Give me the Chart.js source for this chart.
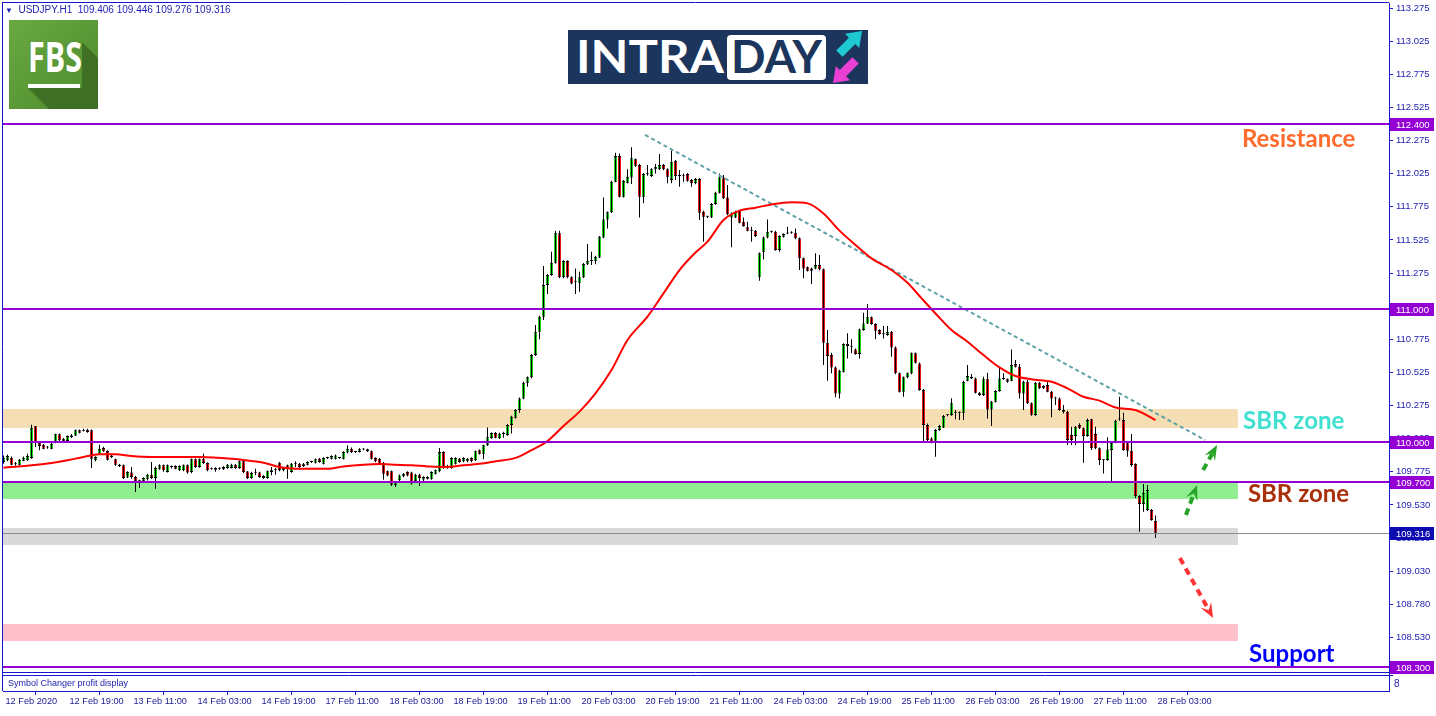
<!DOCTYPE html>
<html>
<head>
<meta charset="utf-8">
<script src="https://cdn.jsdelivr.net/npm/chart.js@4.4.1/dist/chart.umd.min.js"></script>
<style>
html, body { margin: 0; padding: 0; background: #fff; }
#wrap { position: relative; width: 1436px; height: 716px; overflow: hidden; }
#chart { position: absolute; left: 0; top: 0; }
#header { position: absolute; left: 5px; top: 4px; font: 10px "Liberation Sans", Arial, sans-serif; color: #1d1db5; white-space: pre; }
#fbs { position: absolute; left: 9px; top: 20px; }
#intraday { position: absolute; left: 568px; top: 30px; }
</style>
</head>
<body>
<div id="wrap">
  <canvas id="chart" width="1436" height="716"></canvas>
  <div id="header"><span style="font-size:8px">▼</span>  USDJPY.H1  109.406 109.446 109.276 109.316</div>
  <svg id="fbs" width="89" height="89" viewBox="0 0 89 89">
    <defs>
      <linearGradient id="g1" x1="0" y1="0" x2="1" y2="1">
        <stop offset="0" stop-color="#6aa842"/>
        <stop offset="1" stop-color="#4e8c2e"/>
      </linearGradient>
    </defs>
    <rect width="89" height="89" fill="url(#g1)"/>
    <polygon points="73,22 89,38 89,89 40,89 19,68 73,68" fill="#3b6a22" opacity="0.85"/>
    <text x="19" y="52" fill="#fff" font-family="Open Sans, Liberation Sans" font-weight="bold" font-size="41" textLength="54" lengthAdjust="spacingAndGlyphs">FBS</text>
    <rect x="19" y="64" width="52" height="4" fill="#fff"/>
  </svg>
  <svg id="intraday" width="300" height="54" viewBox="0 0 300 54">
    <rect width="300" height="54" fill="#1b355c"/>
    <text x="8" y="43" fill="#fff" font-family="Lato, Open Sans" font-weight="bold" font-size="46" textLength="148" lengthAdjust="spacingAndGlyphs">INTRA</text>
    <rect x="159" y="5" width="99" height="45" rx="4" fill="#fff"/>
    <text x="163" y="43" fill="#1b355c" font-family="Lato, Open Sans" font-weight="bold" font-size="46" textLength="91" lengthAdjust="spacingAndGlyphs">DAY</text>
    <polygon points="294,1 291.2,18 287.3,14.1 274.6,26.8 268.2,20.4 280.9,7.7 277,3.8" fill="#1ec9d2"/>
    <polygon points="265,53 282,50.2 278.1,46.3 290.8,33.6 284.4,27.2 271.7,39.9 267.8,36" fill="#ea3fd4"/>
  </svg>
</div>
<script>
// USDJPY H1, 12 Feb 03:00 -> 28 Feb 03:00 (bar index 0..288)
const opens = [
  109.849,109.862,109.882,109.836,109.829,109.859,109.862,109.879,110.118,109.995,
  109.980,109.962,109.950,109.995,110.058,110.025,110.008,110.038,110.050,110.088,
  110.085,110.093,110.088,109.862,109.912,109.955,109.932,109.899,109.869,109.829,
  109.824,109.733,109.769,109.736,109.705,109.703,109.723,109.753,109.728,109.799,
  109.824,109.774,109.813,109.819,109.786,109.786,109.824,109.774,109.869,109.811,
  109.869,109.842,109.800,109.791,109.799,109.794,109.804,109.804,109.829,109.804,
  109.854,109.778,109.728,109.770,109.769,109.743,109.728,109.774,109.787,109.844,
  109.786,109.824,109.774,109.837,109.836,109.819,109.829,109.849,109.844,109.874,
  109.836,109.879,109.874,109.874,109.880,109.874,109.920,109.950,109.925,109.925,
  109.945,109.945,109.930,109.879,109.874,109.844,109.779,109.779,109.673,109.711,
  109.741,109.774,109.769,109.703,109.753,109.718,109.723,109.723,109.761,109.779,
  109.925,109.804,109.804,109.836,109.874,109.854,109.854,109.879,109.862,109.937,
  109.912,109.975,110.030,110.068,110.028,110.060,110.053,110.128,110.183,110.241,
  110.329,110.448,110.488,110.656,110.833,110.946,111.185,111.260,111.353,111.575,
  111.243,111.366,111.243,111.212,111.202,111.243,111.341,111.368,111.368,111.393,
  111.544,111.680,111.733,111.965,112.158,111.851,111.957,111.997,112.133,112.090,
  111.851,112.020,112.007,112.058,112.058,112.090,112.058,111.977,112.123,112.007,
  112.008,112.022,111.977,111.952,111.985,111.738,111.701,111.695,111.796,111.881,
  111.997,111.846,111.695,111.695,111.746,111.663,111.620,111.596,111.595,111.248,
  111.436,111.544,111.588,111.587,111.449,111.549,111.574,111.579,111.580,111.537,
  111.386,111.318,111.310,111.310,111.336,111.303,110.749,110.656,110.563,110.367,
  110.530,110.724,110.720,110.699,110.664,110.845,110.895,110.941,110.890,110.845,
  110.816,110.807,110.832,110.714,110.518,110.380,110.488,110.518,110.669,110.593,
  110.392,110.128,110.027,110.002,110.090,110.110,110.204,110.203,110.222,110.221,
  110.221,110.463,110.493,110.480,110.372,110.354,110.473,110.246,110.304,110.385,
  110.478,110.473,110.463,110.588,110.568,110.367,110.455,110.292,110.203,110.447,
  110.422,110.430,110.380,110.330,110.329,110.241,110.229,110.053,110.045,110.128,
  110.103,110.045,110.171,110.060,109.952,109.865,109.864,109.939,109.995,110.170,
  110.166,109.990,109.934,109.834,109.592,109.532,109.487,109.487,109.406
];
const highs = [
  109.899,109.905,109.890,109.850,109.872,109.890,109.912,110.130,110.120,110.000,
  109.985,109.970,109.995,110.062,110.065,110.030,110.050,110.060,110.095,110.095,
  110.100,110.100,110.095,109.892,109.980,109.965,109.937,109.905,109.874,109.835,
  109.830,109.780,109.811,109.745,109.715,109.735,109.760,109.849,109.815,109.832,
  109.830,109.830,109.822,109.825,109.825,109.830,109.830,109.875,109.875,109.875,
  109.912,109.848,109.808,109.810,109.810,109.818,109.835,109.836,109.835,109.860,
  109.860,109.782,109.775,109.799,109.775,109.750,109.785,109.811,109.804,109.850,
  109.810,109.830,109.842,109.854,109.842,109.842,109.855,109.858,109.875,109.880,
  109.885,109.888,109.900,109.905,109.887,109.930,109.975,109.958,109.932,109.952,
  109.952,109.950,109.935,109.885,109.880,109.850,109.785,109.785,109.705,109.755,
  109.767,109.780,109.775,109.760,109.760,109.742,109.742,109.780,109.792,109.955,
  109.930,109.829,109.885,109.885,109.880,109.885,109.880,109.885,109.936,109.943,
  109.980,110.110,110.071,110.075,110.070,110.078,110.135,110.198,110.248,110.335,
  110.455,110.495,110.662,110.883,110.952,111.328,111.268,111.436,111.595,111.595,
  111.372,111.372,111.250,111.310,111.285,111.350,111.494,111.436,111.405,111.555,
  111.846,111.740,111.972,112.183,112.178,111.977,112.058,112.224,112.140,112.098,
  112.030,112.090,112.065,112.098,112.173,112.098,112.065,112.199,112.128,112.053,
  112.027,112.030,111.985,111.992,111.992,111.745,111.708,111.803,111.888,112.027,
  112.015,111.939,111.732,111.745,111.751,111.695,111.663,111.625,111.600,111.430,
  111.550,111.680,111.595,111.595,111.560,111.576,111.625,111.590,111.612,111.543,
  111.392,111.324,111.316,111.424,111.411,111.310,110.845,110.674,110.570,110.545,
  110.745,110.820,110.775,110.705,110.856,110.976,111.041,110.947,110.896,110.851,
  110.875,110.875,110.838,110.720,110.524,110.494,110.524,110.675,110.675,110.600,
  110.400,110.140,110.035,110.098,110.128,110.203,110.212,110.330,110.241,110.230,
  110.462,110.581,110.513,110.486,110.378,110.493,110.523,110.310,110.391,110.568,
  110.518,110.480,110.699,110.619,110.588,110.462,110.468,110.298,110.453,110.453,
  110.428,110.455,110.386,110.342,110.335,110.279,110.235,110.115,110.121,110.141,
  110.110,110.178,110.176,110.115,109.958,109.872,110.035,110.001,110.168,110.342,
  110.221,109.996,110.060,109.840,109.598,109.683,109.675,109.495,109.446
];
const lows = [
  109.836,109.855,109.825,109.820,109.825,109.855,109.858,109.874,109.962,109.937,
  109.945,109.950,109.945,109.990,110.000,109.995,110.003,110.030,110.045,110.065,
  110.080,110.070,109.804,109.855,109.905,109.925,109.860,109.880,109.820,109.812,
  109.720,109.728,109.723,109.623,109.653,109.690,109.710,109.720,109.648,109.790,
  109.775,109.770,109.800,109.795,109.782,109.780,109.760,109.765,109.805,109.805,
  109.835,109.780,109.790,109.775,109.790,109.788,109.798,109.800,109.798,109.798,
  109.765,109.720,109.722,109.749,109.730,109.722,109.722,109.749,109.753,109.780,
  109.780,109.723,109.768,109.811,109.805,109.812,109.823,109.842,109.838,109.843,
  109.830,109.872,109.868,109.868,109.873,109.868,109.915,109.918,109.918,109.920,
  109.938,109.925,109.868,109.848,109.830,109.716,109.742,109.668,109.660,109.705,
  109.735,109.742,109.680,109.695,109.668,109.700,109.718,109.716,109.755,109.772,
  109.798,109.798,109.798,109.830,109.843,109.848,109.848,109.848,109.856,109.906,
  109.869,109.970,110.025,110.028,110.023,110.033,110.048,110.065,110.178,110.221,
  110.322,110.417,110.482,110.650,110.775,110.921,111.117,111.255,111.345,111.235,
  111.235,111.235,111.190,111.117,111.134,111.238,111.336,111.336,111.341,111.388,
  111.538,111.612,111.728,111.960,111.846,111.846,111.952,111.947,112.078,111.695,
  111.801,112.010,112.000,112.027,112.053,112.050,111.952,111.952,111.977,111.927,
  111.965,111.965,111.927,111.945,111.675,111.512,111.690,111.690,111.790,111.875,
  111.833,111.712,111.469,111.690,111.650,111.625,111.590,111.512,111.548,111.217,
  111.378,111.538,111.580,111.443,111.436,111.543,111.568,111.572,111.531,111.298,
  111.235,111.287,111.192,111.304,111.297,110.581,110.463,110.518,110.337,110.329,
  110.525,110.631,110.669,110.658,110.631,110.840,110.890,110.884,110.775,110.809,
  110.782,110.801,110.644,110.512,110.374,110.342,110.482,110.512,110.592,110.386,
  110.002,110.005,109.990,109.889,110.085,110.105,110.195,110.198,110.171,110.166,
  110.166,110.458,110.475,110.366,110.348,110.348,110.178,110.120,110.298,110.379,
  110.470,110.448,110.458,110.563,110.329,110.241,110.286,110.198,110.198,110.400,
  110.400,110.375,110.186,110.279,110.236,110.216,109.977,109.977,109.977,110.098,
  109.844,110.040,109.939,109.946,109.826,109.763,109.858,109.700,109.990,110.160,
  109.934,109.889,109.813,109.575,109.323,109.474,109.480,109.405,109.276
];
const closes = [
  109.882,109.894,109.829,109.838,109.867,109.882,109.894,110.108,110.000,109.970,
  109.950,109.958,109.987,110.058,110.013,110.005,110.045,110.050,110.088,110.070,
  110.088,110.075,109.874,109.887,109.950,109.930,109.867,109.887,109.829,109.819,
  109.728,109.774,109.736,109.703,109.703,109.728,109.753,109.728,109.804,109.824,
  109.786,109.824,109.811,109.799,109.819,109.824,109.769,109.869,109.811,109.869,
  109.842,109.786,109.798,109.804,109.800,109.811,109.829,109.829,109.804,109.854,
  109.774,109.728,109.766,109.768,109.736,109.728,109.779,109.786,109.786,109.786,
  109.804,109.799,109.836,109.836,109.811,109.836,109.849,109.850,109.869,109.849,
  109.879,109.880,109.894,109.899,109.879,109.925,109.950,109.925,109.924,109.945,
  109.944,109.930,109.874,109.854,109.836,109.761,109.748,109.678,109.698,109.748,
  109.761,109.748,109.686,109.753,109.728,109.736,109.736,109.774,109.786,109.925,
  109.804,109.810,109.879,109.879,109.849,109.879,109.874,109.854,109.930,109.912,
  109.975,110.035,110.068,110.033,110.063,110.062,110.128,110.191,110.241,110.329,
  110.448,110.488,110.656,110.833,110.946,111.185,111.260,111.353,111.575,111.243,
  111.366,111.243,111.197,111.210,111.243,111.343,111.368,111.366,111.398,111.549,
  111.680,111.733,111.965,112.158,111.851,111.970,112.002,112.141,112.085,111.851,
  112.022,112.022,112.058,112.078,112.090,112.058,112.002,112.115,112.007,112.009,
  112.006,111.972,111.952,111.985,111.731,111.700,111.699,111.796,111.881,111.997,
  111.839,111.718,111.725,111.738,111.655,111.630,111.595,111.594,111.554,111.424,
  111.544,111.587,111.586,111.449,111.554,111.570,111.576,111.581,111.537,111.386,
  111.310,111.293,111.293,111.336,111.303,110.749,110.649,110.563,110.367,110.538,
  110.739,110.739,110.718,110.664,110.850,110.895,110.941,110.890,110.840,110.815,
  110.814,110.832,110.714,110.518,110.380,110.488,110.518,110.669,110.598,110.392,
  110.128,110.015,110.002,110.090,110.120,110.196,110.202,110.292,110.220,110.223,
  110.455,110.498,110.480,110.372,110.354,110.473,110.246,110.304,110.385,110.480,
  110.476,110.455,110.581,110.568,110.367,110.455,110.292,110.205,110.447,110.405,
  110.405,110.380,110.329,110.328,110.241,110.229,110.015,110.015,110.115,110.103,
  110.045,110.166,109.952,109.952,109.864,109.863,109.944,109.995,110.161,110.172,
  109.939,109.934,109.826,109.592,109.532,109.617,109.637,109.411,109.316
];

// moving average at these bars
const maIdx = [0,3,7,12,16,20,24,28,32,37,41,49,57,62,65,69,73,81,85,90,
  94,98,102,106,110,115,119,123,128,132,136,140,144,148,152,156,161,165,169,173,
  176,180,184,188,192,197,201,205,209,213,217,222,226,229,233,237,241,245,249,253,
  257,262,266,270,274,278,283,288];
const maVal = [109.806,109.814,109.824,109.842,109.862,109.887,109.907,109.907,109.894,109.887,
  109.887,109.887,109.874,109.857,109.844,109.811,109.799,109.799,109.816,109.829,
  109.834,109.829,109.824,109.816,109.811,109.824,109.836,109.854,109.880,109.939,
  110.007,110.121,110.229,110.367,110.543,110.770,110.946,111.122,111.298,111.430,
  111.512,111.675,111.746,111.768,111.793,111.809,111.801,111.725,111.595,111.487,
  111.386,111.298,111.202,111.102,110.970,110.845,110.757,110.656,110.563,110.498,
  110.473,110.455,110.405,110.342,110.312,110.261,110.241,110.165];

const timeTicks = [0,16,32,48,64,80,96,112,128,144,160,176,192,208,224,240,256,272,288];
const timeLabels = ['12 Feb 2020','12 Feb 19:00','13 Feb 11:00','14 Feb 03:00','14 Feb 19:00',
  '17 Feb 11:00','18 Feb 03:00','18 Feb 19:00','19 Feb 11:00','20 Feb 03:00','20 Feb 19:00',
  '21 Feb 11:00','24 Feb 03:00','24 Feb 19:00','25 Feb 11:00','26 Feb 03:00','26 Feb 19:00',
  '27 Feb 11:00','28 Feb 03:00'];

const priceTicks = [113.275,113.025,112.775,112.525,112.275,112.025,111.775,111.525,111.275,111.025,
  110.775,110.525,110.275,110.025,109.775,109.525,109.275,109.025,108.775,108.525,108.275];
const priceLabels = ['113.275','113.025','112.775','112.525','112.275','112.025','111.775','111.525','111.275','111.025',
  '110.775','110.525','110.275','110.025','109.775','109.530','109.280','109.030','108.780','108.530','108.280'];

const levels = [112.4, 111.0, 110.0, 109.7, 108.3];
const lastPrice = 109.316;

const zoneHigh = [110.249, 109.698, 109.351, 108.626];
const zoneLow  = [110.106, 109.570, 109.223, 108.498];
const zoneEnd = 308.6;

const trendFrom = [160.4, 112.317];
const trendTo = [300.4, 110.015];

const arrowFrom = [[295.6, 109.449], [299.9, 109.789], [294.1, 109.125]];
const arrowTo   = [[298.4, 109.675], [303.4, 109.977], [302.4, 108.672]];

const noteText = ['Resistance', 'SBR zone', 'SBR zone', 'Support'];
const noteAt = [[309.6, 112.226], [309.9, 110.098], [311.1, 109.547], [311.4, 108.340]];

// styles
const bull = '#1fd11f', bear = '#e31515';
const zoneColors = ['#f5deb3', '#90ee90', '#d9d9d9', '#ffc0cb'];
const arrowColors = ['#27a327', '#27a327', '#ff3535'];
const noteColors = ['#ff6b2b', '#40e0d0', '#a8300a', '#0000ff'];
const levelColor = '#9400d3';
const frameBlue = '#1414d2';
const textBlue = '#1c1cb0';

const idx = opens.map((_, i) => i);

function drawArrow(ctx, x0, y0, x1, y1, color) {
  const dx = x1 - x0, dy = y1 - y0, len = Math.hypot(dx, dy);
  const ux = dx / len, uy = dy / len, nx = -uy, ny = ux;
  const head = 15;
  ctx.save();
  ctx.strokeStyle = color;
  ctx.fillStyle = color;
  ctx.lineWidth = 4;
  ctx.setLineDash([7, 5]);
  ctx.beginPath();
  ctx.moveTo(x0, y0);
  ctx.lineTo(x1 - ux * head * 0.6, y1 - uy * head * 0.6);
  ctx.stroke();
  ctx.setLineDash([]);
  ctx.beginPath();
  ctx.moveTo(x1, y1);
  ctx.lineTo(x1 - ux * head + nx * 6, y1 - uy * head + ny * 6);
  ctx.lineTo(x1 - ux * head * 0.6, y1 - uy * head * 0.6);
  ctx.lineTo(x1 - ux * head - nx * 6, y1 - uy * head - ny * 6);
  ctx.closePath();
  ctx.fill();
  ctx.restore();
}

const mt4Plugin = {
  id: 'mt4',
  beforeDatasetsDraw(chart) {
    const { ctx, chartArea: a, scales: { x, y } } = chart;
    ctx.save();
    const right = x.getPixelForValue(zoneEnd);
    zoneHigh.forEach((hi, k) => {
      const top = y.getPixelForValue(hi), bot = y.getPixelForValue(zoneLow[k]);
      ctx.fillStyle = zoneColors[k];
      ctx.fillRect(a.left, Math.round(top), right - a.left, Math.round(bot - top));
    });
    ctx.restore();
  },
  afterDatasetsDraw(chart) {
    const { ctx, chartArea: a, scales: { x, y } } = chart;
    ctx.save();
    // current price line
    const py = Math.round(y.getPixelForValue(lastPrice)) + 0.5;
    ctx.strokeStyle = '#8a8a8a';
    ctx.lineWidth = 1;
    ctx.beginPath(); ctx.moveTo(a.left, py); ctx.lineTo(a.right, py); ctx.stroke();
    // levels
    ctx.strokeStyle = levelColor;
    ctx.lineWidth = 2;
    levels.forEach(v => {
      const ly = Math.round(y.getPixelForValue(v));
      ctx.beginPath(); ctx.moveTo(a.left, ly); ctx.lineTo(a.right, ly); ctx.stroke();
    });
    // arrows
    arrowFrom.forEach((f, k) => {
      const t = arrowTo[k];
      drawArrow(ctx, x.getPixelForValue(f[0]), y.getPixelForValue(f[1]),
        x.getPixelForValue(t[0]), y.getPixelForValue(t[1]), arrowColors[k]);
    });
    // notes
    ctx.font = 'bold 24px Lato, "Open Sans", sans-serif';
    ctx.textBaseline = 'alphabetic';
    ctx.textAlign = 'left';
    noteText.forEach((t, k) => {
      ctx.fillStyle = noteColors[k];
      ctx.fillText(t, x.getPixelForValue(noteAt[k][0]), y.getPixelForValue(noteAt[k][1]));
    });
    ctx.restore();
  },
  afterDraw(chart) {
    const { ctx, chartArea: a, scales: { y } } = chart;
    ctx.save();
    // sub window
    ctx.fillStyle = '#fff';
    ctx.fillRect(a.left, 672, a.right - a.left, a.bottom - 672);
    ctx.strokeStyle = frameBlue;
    ctx.lineWidth = 1;
    ctx.beginPath();
    ctx.moveTo(2, 672.5); ctx.lineTo(a.right, 672.5);
    ctx.moveTo(2, 675.5); ctx.lineTo(a.right + 4, 675.5);
    ctx.moveTo(2.5, 2); ctx.lineTo(2.5, a.bottom);
    ctx.moveTo(2, 2.5); ctx.lineTo(a.right, 2.5);
    ctx.stroke();
    ctx.fillStyle = textBlue;
    ctx.font = '9px "Liberation Sans", Arial, sans-serif';
    ctx.textBaseline = 'middle';
    ctx.fillText('Symbol Changer profit display', 8, 684);
    ctx.font = '10px "Liberation Sans", Arial, sans-serif';
    ctx.fillText('8', 1394, 684);
    // price boxes on the axis
    ctx.font = '9.5px "Liberation Sans", Arial, sans-serif';
    const boxes = levels.map(v => [v, levelColor]).concat([[lastPrice, '#0c0cb0']]);
    boxes.forEach(([v, c]) => {
      const by = Math.round(y.getPixelForValue(v));
      ctx.fillStyle = c;
      ctx.fillRect(a.right + 1, by - 6, 44, 13);
      ctx.fillStyle = '#fff';
      ctx.fillText(v.toFixed(3), a.right + 7, by + 1);
    });
    ctx.restore();
  }
};

new Chart(document.getElementById('chart'), {
  type: 'bar',
  data: {
    datasets: [
      {
        type: 'line',
        data: maIdx.map((v, k) => ({ x: v, y: maVal[k] })),
        borderColor: '#ff0000',
        borderWidth: 2,
        pointRadius: 0,
        cubicInterpolationMode: 'monotone',
        order: 0
      },
      {
        type: 'line',
        data: [{ x: trendFrom[0], y: trendFrom[1] }, { x: trendTo[0], y: trendTo[1] }],
        borderColor: '#5fa3a6',
        borderWidth: 2,
        borderDash: [4, 3],
        pointRadius: 0,
        order: 1
      },
      {
        // wicks, drawn over the bodies as a dark spine
        data: idx.map(i => ({ x: i, y: [lows[i], highs[i]] })),
        backgroundColor: '#000',
        borderWidth: 0,
        barThickness: 1,
        inflateAmount: 0,
        grouped: false,
        order: 2
      },
      {
        data: idx.map(i => ({ x: i, y: [opens[i], closes[i]] })),
        backgroundColor: idx.map(i => closes[i] >= opens[i] ? bull : bear),
        borderColor: '#000',
        borderWidth: { top: 1, bottom: 1, left: 0, right: 0 },
        borderSkipped: false,
        barThickness: 3,
        minBarLength: 1,
        inflateAmount: 0,
        grouped: false,
        order: 3
      }
    ]
  },
  options: {
    responsive: false,
    animation: false,
    devicePixelRatio: 1,
    layout: { padding: { left: 3, top: 3, right: 0, bottom: 0 } },
    plugins: { legend: { display: false }, tooltip: { enabled: false } },
    scales: {
      x: {
        type: 'linear',
        min: -0.125,
        max: 346.375,
        offset: false,
        afterBuildTicks: s => { s.ticks = timeTicks.map(v => ({ value: v })); },
        afterFit: s => { s.height = 25; s.paddingLeft = 0; s.paddingRight = 0; },
        ticks: {
          autoSkip: false,
          maxRotation: 0,
          align: 'start',
          labelOffset: 2,
          padding: 1,
          color: '#202096',
          font: { family: '"Liberation Sans", Arial, sans-serif', size: 9.2 },
          callback: (v, i) => timeLabels[i]
        },
        grid: { drawOnChartArea: false, drawTicks: true, tickLength: 4, color: frameBlue },
        border: { display: true, color: frameBlue }
      },
      y: {
        position: 'right',
        min: 108.121,
        max: 113.313,
        afterBuildTicks: s => { s.ticks = priceTicks.map(v => ({ value: v })); },
        afterFit: s => { s.width = 47; s.paddingTop = 0; s.paddingBottom = 0; },
        ticks: {
          autoSkip: false,
          padding: 3,
          color: textBlue,
          font: { family: '"Liberation Sans", Arial, sans-serif', size: 9.5 },
          callback: v => priceLabels[priceTicks.indexOf(v)]
        },
        grid: { drawOnChartArea: false, drawTicks: true, tickLength: 4, color: frameBlue },
        border: { display: true, color: frameBlue }
      }
    }
  },
  plugins: [mt4Plugin]
});
</script>
</body>
</html>
